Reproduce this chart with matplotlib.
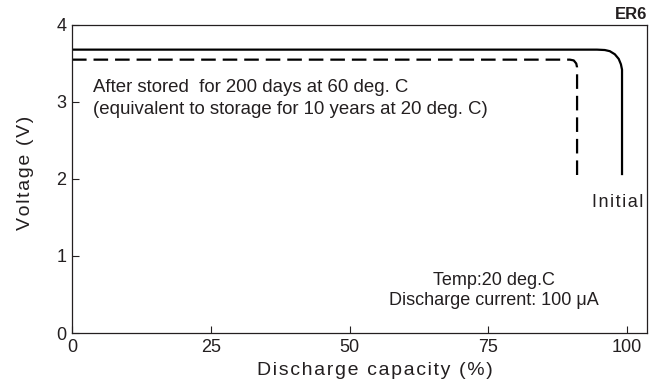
import matplotlib.pyplot as plt

plt.rcParams['font.family'] = ['Liberation Sans', 'DejaVu Sans']
plt.rcParams['lines.scale_dashes'] = False

ink = '#231f20'

# initial discharge curve (capacity %, voltage V)
init_cap = [0, 94.6, 96.0, 96.9, 97.8, 98.5, 98.9, 99.1, 99.1]
init_v = [3.68, 3.68, 3.675, 3.66, 3.62, 3.56, 3.49, 3.42, 2.05]

# after storage 200 days at 60 deg. C
stored_cap = [0, 89.7, 90.4, 90.85, 91.0, 91.0]
stored_v = [3.55, 3.55, 3.54, 3.50, 3.45, 2.05]

xticks = [0, 25, 50, 75, 100]
yticks = [0, 1, 2, 3, 4]


def spaced(s):
    # widen letter spacing with hair spaces
    return '\u200a'.join(s)


fig = plt.figure(figsize=(6.59, 3.85), dpi=100)
ax = fig.add_axes([72/659, 1 - 333/385, (647-72)/659, (333-25)/385])

ax.plot(init_cap, init_v, color='black', lw=1.6, solid_capstyle='butt')
ax.plot(stored_cap, stored_v, color='black', lw=1.6, dashes=(10.5, 5))

ax.set_xlim(0, 103.6)
ax.set_ylim(0, 4)
ax.set_xticks(xticks)
ax.set_yticks(yticks)
ax.tick_params(direction='in', length=5, width=0.8, colors=ink, labelsize=13)
ax.tick_params(axis='x', pad=4)
ax.tick_params(axis='y', pad=4)
for s in ax.spines.values():
    s.set_linewidth(0.9)
    s.set_color(ink)

ax.set_xlabel(spaced('Discharge capacity (%)'), fontsize=14, color=ink)
ax.xaxis.set_label_coords(0.527, -0.095)
ax.set_ylabel(spaced('Voltage (V)'), fontsize=14, color=ink)
ax.yaxis.set_label_coords(-0.066, 0.52)

ax.text(1.0, 1.01, 'ER6', transform=ax.transAxes, ha='right', va='bottom',
        fontsize=12, fontweight='bold', color=ink)
ax.text(102.9, 1.69, spaced('Initial'), ha='right', va='center', fontsize=13, color=ink)
ax.text(3.8, 3.045, 'After stored  for 200 days at 60 deg. C\n'
        '(equivalent to storage for 10 years at 20 deg. C)',
        ha='left', va='center', fontsize=13.4, color=ink, linespacing=1.33)
ax.text(76, 0.55, 'Temp:20 deg.C\nDischarge current: 100 μA',
        ha='center', va='center', fontsize=13, color=ink, linespacing=1.2)

fig.savefig('out.png', dpi=100)
